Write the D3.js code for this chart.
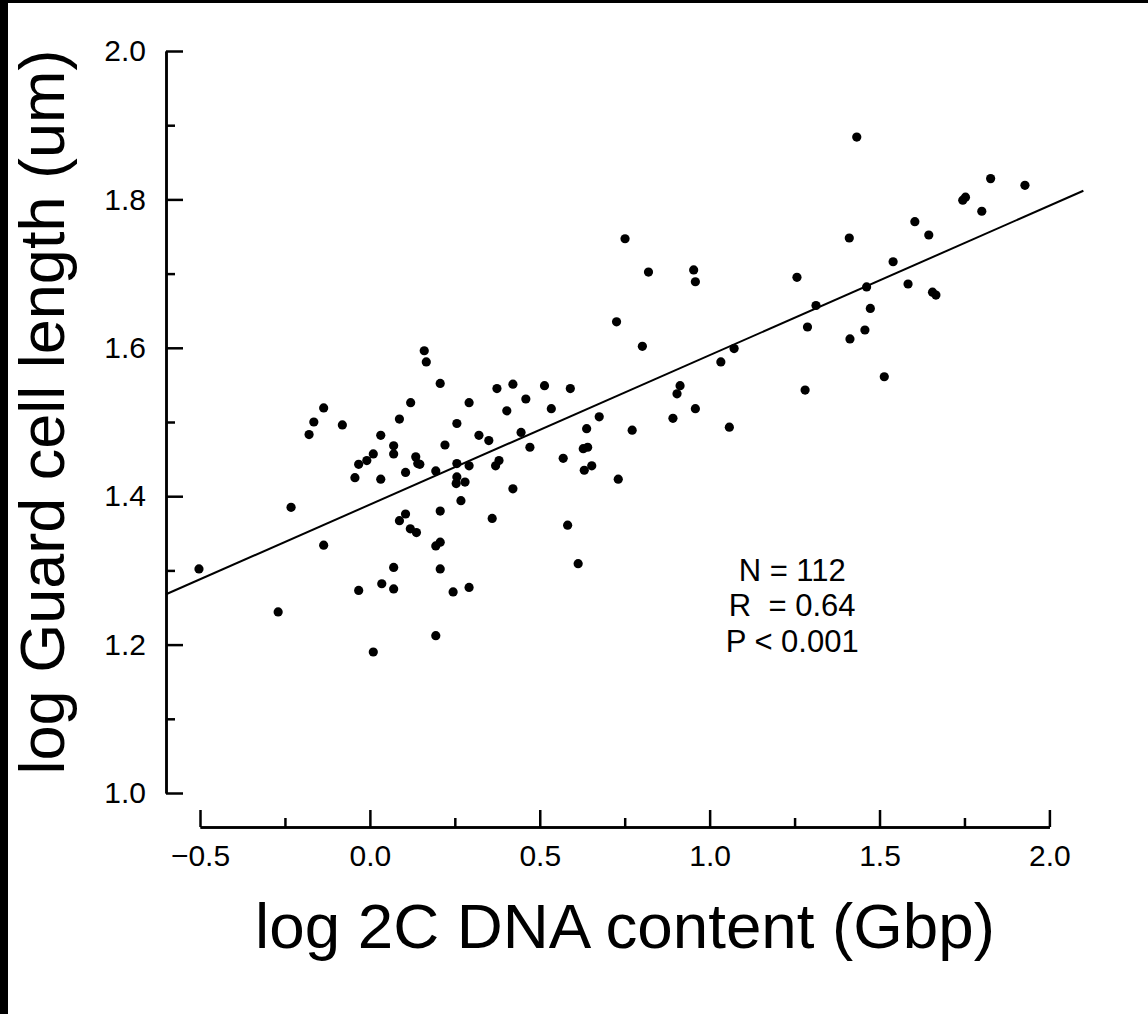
<!DOCTYPE html>
<html>
<head>
<meta charset="utf-8">
<script src="https://cdn.jsdelivr.net/npm/d3@7"></script>
<style>
  html, body { margin: 0; padding: 0; background: #fff; }
  svg { display: block; }
  text { font-family: "Liberation Sans", Arial, sans-serif; fill: #000; }
</style>
</head>
<body>
<svg id="chart" width="1148" height="1014"></svg>
<script>
// ---- data ----
const dnaContent = [
  0.160, 0.166, 0.207, -0.136, 0.120, 0.374, 0.421, 0.459, 0.292, -0.165,
  -0.179, -0.081, 0.087, 0.403, 0.256, 0.032, 0.321, 0.350, 0.445, 0.471,
  0.221, 0.070, 0.070, 0.010, -0.009, -0.033, 0.135, 0.141, 0.147, 0.194,
  0.256, 0.292, 0.380, 0.370, -0.044, 0.032, 0.105, 0.256, 0.254, 0.280,
  0.421, 0.268, -0.232, 0.207, 0.105, 0.087, 0.119, 0.137, 0.360, -0.136,
  0.194, 0.207, -0.503, 0.070, 0.207, -0.033, 0.035, 0.070, 0.245, 0.292,
  -0.270, 0.194, 0.010, 0.751, 0.820, 0.953, 0.958, 1.257, 0.726, 0.802,
  1.072, 1.033, 0.514, 0.590, 0.913, 0.904, 0.534, 0.958, 0.675, 0.892,
  1.058, 0.638, 0.772, 0.628, 0.641, 0.569, 0.653, 0.631, 0.731, 1.433,
  1.827, 1.928, 1.745, 1.753, 1.801, 1.604, 1.645, 1.411, 1.540, 1.462,
  1.584, 1.656, 1.666, 1.313, 1.473, 1.288, 1.457, 1.413, 1.514, 1.281,
  0.582, 0.613
];
const guardCellLength = [
  1.596, 1.581, 1.552, 1.519, 1.526, 1.545, 1.551, 1.531, 1.526, 1.500,
  1.483, 1.496, 1.504, 1.515, 1.498, 1.482, 1.482, 1.475, 1.486, 1.466,
  1.469, 1.468, 1.457, 1.457, 1.448, 1.443, 1.453, 1.444, 1.443, 1.434,
  1.444, 1.441, 1.448, 1.441, 1.425, 1.423, 1.432, 1.426, 1.417, 1.419,
  1.410, 1.394, 1.385, 1.380, 1.376, 1.367, 1.356, 1.351, 1.370, 1.334,
  1.333, 1.338, 1.302, 1.304, 1.302, 1.273, 1.282, 1.275, 1.271, 1.277,
  1.244, 1.212, 1.190, 1.747, 1.702, 1.705, 1.689, 1.695, 1.635, 1.602,
  1.599, 1.581, 1.549, 1.545, 1.549, 1.538, 1.518, 1.518, 1.507, 1.505,
  1.493, 1.491, 1.489, 1.464, 1.466, 1.451, 1.441, 1.435, 1.423, 1.884,
  1.828, 1.819, 1.799, 1.803, 1.784, 1.770, 1.752, 1.748, 1.716, 1.682,
  1.686, 1.675, 1.671, 1.657, 1.653, 1.628, 1.624, 1.612, 1.561, 1.543,
  1.361, 1.309
];
const xMajorTicks = [-0.5, 0.0, 0.5, 1.0, 1.5, 2.0];
const xMinorTicks = [-0.25, 0.25, 0.75, 1.25, 1.75];
const yMajorTicks = [1.0, 1.2, 1.4, 1.6, 1.8, 2.0];
const yMinorTicks = [1.1, 1.3, 1.5, 1.7, 1.9];
const fitRange = [-0.6, 2.1];
const fitCoef = [1.3887, 0.2014]; // intercept, slope
const statLines = ["N = 112", "R  = 0.64", "P < 0.001"];
const xTitle = "log 2C DNA content (Gbp)";
const yTitle = "log Guard cell length (um)";

// ---- drawing ----
const svg = d3.select("#chart");
svg.append("rect").attr("width", 1148).attr("height", 1014).attr("fill", "#fff");
// black frame strips of the original screenshot
svg.append("rect").attr("x", 0).attr("y", 0).attr("width", 8).attr("height", 1014).attr("fill", "#000");
svg.append("rect").attr("x", 0).attr("y", 0).attr("width", 1148).attr("height", 3).attr("fill", "#000");

const x = d3.scaleLinear().domain([-0.5, 2.0]).range([200, 1049.4]);
const y = d3.scaleLinear().domain([1.0, 2.0]).range([793, 51]);
const yAxisX = 166, xAxisY = 827;
const fmt = d3.format(".1f");

function styleAxis(g) {
  g.select(".domain").attr("stroke", "#000").attr("stroke-width", 2.5);
  g.selectAll(".tick line").attr("stroke", "#000").attr("stroke-width", 2.5);
  g.selectAll("text").attr("font-size", 30).attr("font-family", '"Liberation Sans", Arial, sans-serif').attr("fill", "#000");
}

// Y axis
const gy = svg.append("g").attr("transform", `translate(${yAxisX},0)`)
  .call(d3.axisLeft(y).tickValues(yMajorTicks).tickFormat(fmt).tickSize(-17).tickSizeOuter(0).tickPadding(20));
styleAxis(gy);
const gyMinor = svg.append("g").attr("transform", `translate(${yAxisX},0)`)
  .call(d3.axisLeft(y).tickValues(yMinorTicks).tickFormat("").tickSize(-9).tickSizeOuter(0));
styleAxis(gyMinor);

// X axis
const gx = svg.append("g").attr("transform", `translate(0,${xAxisY})`)
  .call(d3.axisBottom(x).tickValues(xMajorTicks).tickFormat(fmt).tickSize(-17).tickSizeOuter(0).tickPadding(18));
styleAxis(gx);
const gxMinor = svg.append("g").attr("transform", `translate(0,${xAxisY})`)
  .call(d3.axisBottom(x).tickValues(xMinorTicks).tickFormat("").tickSize(-9).tickSizeOuter(0));
styleAxis(gxMinor);

// regression line
const fitPts = fitRange.map(v => [v, fitCoef[0] + fitCoef[1] * v]);
svg.append("path")
  .attr("d", d3.line().x(d => x(d[0])).y(d => y(d[1]))(fitPts))
  .attr("fill", "none").attr("stroke", "#000").attr("stroke-width", 2);

// points
svg.append("g").selectAll("circle")
  .data(dnaContent.map((v, i) => [v, guardCellLength[i]]))
  .join("circle")
  .attr("cx", d => x(d[0])).attr("cy", d => y(d[1]))
  .attr("r", 4.6).attr("fill", "#000");

// stats annotation
svg.append("g").selectAll("text")
  .data(statLines)
  .join("text")
  .attr("x", x(1.243))
  .attr("y", (d, i) => y(1.286) + i * 35.5)
  .attr("text-anchor", "middle")
  .attr("font-size", 31)
  .style("white-space", "pre")
  .attr("xml:space", "preserve")
  .text(d => d);

// titles
svg.append("text")
  .attr("x", 625).attr("y", 948)
  .attr("text-anchor", "middle")
  .attr("font-size", 63.7)
  .text(xTitle);
svg.append("text")
  .attr("transform", "translate(64,412) rotate(-90)")
  .attr("text-anchor", "middle")
  .attr("font-size", 63)
  .text(yTitle);
</script>
</body>
</html>
